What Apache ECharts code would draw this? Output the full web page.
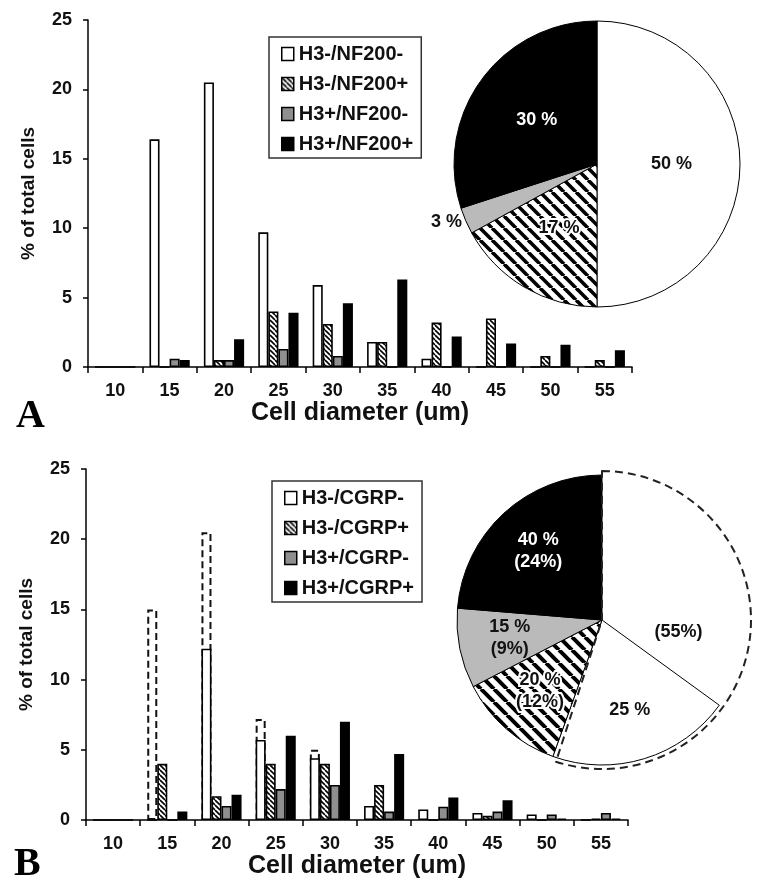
<!DOCTYPE html>
<html>
<head>
<meta charset="utf-8">
<script src="https://cdn.jsdelivr.net/npm/echarts@6/dist/echarts.min.js"></script>
<style>
html,body{margin:0;padding:0;background:#fff;}
#chart{width:762px;height:889px;}
</style>
</head>
<body>
<div id="chart"></div>
<script>
// ---------- data ----------
const categories = ['10','15','20','25','30','35','40','45','50','55'];
const yMin = 0, yMax = 25, yStep = 5;

// Panel A
const namesA = ['H3-/NF200-','H3-/NF200+','H3+/NF200-','H3+/NF200+'];
const nfWhite = [0, 16.4, 20.5, 9.7, 5.9, 1.8, 0.6, 0, 0, 0];
const nfHatch = [0, 0, 0.5, 4.0, 3.1, 1.8, 3.2, 3.5, 0.8, 0.5];
const nfGray  = [0, 0.6, 0.5, 1.3, 0.8, 0, 0, 0, 0, 0];
const nfBlack = [0, 0.5, 2.0, 3.9, 4.6, 6.3, 2.2, 1.7, 1.6, 1.2];
const pieAValues = [50, 17, 3, 30];
const pieALabels = ['50 %', '17 %', '3 %', '30 %'];

// Panel B
const namesB = ['H3-/CGRP-','H3-/CGRP+','H3+/CGRP-','H3+/CGRP+'];
const cgWhite  = [0, 0, 12.2, 5.7, 4.4, 1.0, 0.75, 0.5, 0.4, 0];
const cgHatch  = [0, 4.0, 1.7, 4.0, 4.0, 2.5, 0, 0.3, 0, 0.1];
const cgGray   = [0, 0, 1.0, 2.2, 2.5, 0.6, 0.95, 0.6, 0.4, 0.5];
const cgBlack  = [0, 0.6, 1.8, 6.0, 7.0, 4.7, 1.6, 1.4, 0.1, 0.1];
const cgDashed = ['-', 15.0, 20.5, 7.2, 5.0, '-', '-', '-', '-', '-'];
// solid pie slices clockwise from 12 o'clock: (unoutlined white), white, hatched, gray, black
const pieBSolid = [35, 20.5, 11.9, 8.9, 23.7];
const pieBLabels = ['', '25 %', '20 %\n(12%)', '15 %\n(9%)', '40 %\n(24%)'];
// dashed outline pie: white total, rest
const pieBDashed = [55, 45];
const pieBDashedLabels = ['(55%)', ''];

// ---------- styles ----------
const FONT = '"Liberation Sans", Arial, sans-serif';
const SERIF = '"Liberation Serif", "Times New Roman", serif';
const GRAY_BAR = '#8f8f8f';
const GRAY_PIE = '#bababa';

function hatch(size, lw) {
  const c = document.createElement('canvas');
  c.width = size; c.height = size;
  const ctx = c.getContext('2d');
  ctx.fillStyle = '#fff';
  ctx.fillRect(0, 0, size, size);
  ctx.strokeStyle = '#000';
  ctx.lineWidth = lw;
  for (const k of [-size, 0, size]) {
    ctx.beginPath();
    ctx.moveTo(k, 0);
    ctx.lineTo(k + size, size);
    ctx.stroke();
  }
  return { image: c, repeat: 'repeat' };
}
const barHatch = hatch(5, 1.6);
const pieHatchA = hatch(12, 3.6);
const pieHatchB = hatch(13, 4);

const fills = ['#ffffff', barHatch, GRAY_BAR, '#000000'];

function barSeries(name, data, idx, xi, yi) {
  return {
    type: 'bar', name: name, data: data,
    xAxisIndex: xi, yAxisIndex: yi,
    barGap: '0%', barCategoryGap: '26%',
    z: 3,
    itemStyle: { color: fills[idx], borderColor: '#000', borderWidth: 1.6 },
    emphasis: { disabled: true },
    silent: true
  };
}

function yAxisCfg(grid) {
  return {
    type: 'value', gridIndex: grid, min: yMin, max: yMax, interval: yStep,
    name: '% of total cells', nameLocation: 'middle', nameGap: 50,
    nameTextStyle: { fontFamily: FONT, fontSize: 19, fontWeight: 'bold', color: '#111' },
    axisLine: { show: true, lineStyle: { color: '#000', width: 1.5 } },
    axisTick: { show: true, length: 5, lineStyle: { color: '#000', width: 1.5 } },
    axisLabel: { fontFamily: FONT, fontSize: 18, fontWeight: 'bold', color: '#111', margin: 16 },
    splitLine: { show: false }
  };
}
function xAxisCfg(grid) {
  return {
    type: 'category', gridIndex: grid, data: categories,
    name: 'Cell diameter (um)', nameLocation: 'middle', nameGap: 31,
    nameTextStyle: { fontFamily: FONT, fontSize: 25, fontWeight: 'bold', color: '#111' },
    axisLine: { show: true, lineStyle: { color: '#000', width: 1.5 } },
    axisTick: { show: true, length: 6, lineStyle: { color: '#000', width: 1.5 } },
    axisLabel: { fontFamily: FONT, fontSize: 18, fontWeight: 'bold', color: '#111', margin: 15 },
    splitLine: { show: false }
  };
}

const legendCommon = {
  orient: 'vertical',
  backgroundColor: '#fff',
  borderColor: '#333', borderWidth: 1.5, borderRadius: 0,
  itemWidth: 12, itemHeight: 13, itemGap: 10,
  padding: [7, 8, 4, 12],
  textStyle: { fontFamily: FONT, fontSize: 20, fontWeight: 'bold', color: '#111', padding: [0, 0, 0, 0] },
  itemStyle: { borderColor: '#000', borderWidth: 1.5 },
  selectedMode: false,
  icon: 'rect'
};

const lblBase = { fontFamily: FONT, fontSize: 18, fontWeight: 'bold', lineHeight: 22 };

// pie A data
const pieAFills = ['#ffffff', pieHatchA, GRAY_PIE, '#000000'];
const pieAData = pieAValues.map((v, i) => {
  const item = {
    value: v, name: 'a' + i,
    itemStyle: { color: pieAFills[i] },
    label: Object.assign({ show: true, formatter: pieALabels[i], position: 'inside',
      color: i === 3 ? '#fff' : '#111' }, lblBase)
  };
  if (i === 1) { item.label.textBorderColor = '#fff'; item.label.textBorderWidth = 4; }
  if (i === 2) {
    item.label.position = 'outside';
    item.label.distanceToLabelLine = 2;
    item.labelLine = { show: false, length: 2, length2: 0 };
  }
  return item;
});

// pie B data
const pieBFills = ['rgba(0,0,0,0)', '#ffffff', pieHatchB, GRAY_PIE, '#000000'];
const pieBSolidData = pieBSolid.map((v, i) => ({
  value: v, name: 'b' + i,
  itemStyle: i === 0 ? { color: 'rgba(0,0,0,0)', borderWidth: 0 }
                     : { color: pieBFills[i], borderColor: '#000', borderWidth: 1 }
}));
const pieBLabelData = pieBSolid.map((v, i) => ({
  value: v, name: 'bl' + i,
  label: Object.assign({ show: pieBLabels[i] !== '', formatter: pieBLabels[i], position: 'inside',
    color: i === 4 ? '#fff' : '#111',
    textBorderColor: i === 2 ? '#fff' : 'transparent', textBorderWidth: i === 2 ? 4 : 0 }, lblBase)
}));
const pieBDashedData = pieBDashed.map((v, i) => ({
  value: v, name: 'bd' + i,
  itemStyle: i === 0 ? { color: 'rgba(0,0,0,0)', borderColor: '#222', borderWidth: 2, borderType: [8, 5] }
                     : { color: 'rgba(0,0,0,0)', borderWidth: 0 },
  label: Object.assign({ show: pieBDashedLabels[i] !== '', formatter: pieBDashedLabels[i],
    position: 'inside', color: '#111' }, lblBase)
}));

const option = {
  animation: false,
  backgroundColor: '#fff',
  textStyle: { fontFamily: FONT },
  title: [
    { text: 'A', left: 16, top: 397, padding: 0,
      textStyle: { fontFamily: SERIF, fontSize: 40, fontWeight: 'bold', color: '#000' } },
    { text: 'B', left: 14, top: 845, padding: 0,
      textStyle: { fontFamily: SERIF, fontSize: 40, fontWeight: 'bold', color: '#000' } }
  ],
  grid: [
    { left: 88, top: 20, width: 544, height: 347 },
    { left: 86, top: 469, width: 542, height: 351 }
  ],
  xAxis: [
    xAxisCfg(0),
    xAxisCfg(1),
    { type: 'category', gridIndex: 1, data: categories, show: false }
  ],
  yAxis: [
    yAxisCfg(0),
    yAxisCfg(1),
    { type: 'value', gridIndex: 1, min: yMin, max: yMax, interval: yStep, show: false }
  ],
  legend: [
    Object.assign({}, legendCommon, { left: 269, top: 37, data: namesA }),
    Object.assign({}, legendCommon, { left: 272, top: 481, data: namesB })
  ],
  series: [
    barSeries(namesA[0], nfWhite, 0, 0, 0),
    barSeries(namesA[1], nfHatch, 1, 0, 0),
    barSeries(namesA[2], nfGray, 2, 0, 0),
    barSeries(namesA[3], nfBlack, 3, 0, 0),
    barSeries(namesB[0], cgWhite, 0, 1, 1),
    barSeries(namesB[1], cgHatch, 1, 1, 1),
    barSeries(namesB[2], cgGray, 2, 1, 1),
    barSeries(namesB[3], cgBlack, 3, 1, 1),
    // dashed outline overlay (slot aligned with white bars)
    { type: 'bar', name: 'dashedTotal', data: cgDashed, xAxisIndex: 2, yAxisIndex: 2,
      barGap: '0%', barCategoryGap: '26%', z: 2, silent: true,
      itemStyle: { color: 'rgba(0,0,0,0)', borderColor: '#111', borderWidth: 2, borderType: [7, 4] } },
    { type: 'bar', name: 'ph1', data: categories.map(() => '-'), xAxisIndex: 2, yAxisIndex: 2,
      barGap: '0%', barCategoryGap: '26%', silent: true },
    { type: 'bar', name: 'ph2', data: categories.map(() => '-'), xAxisIndex: 2, yAxisIndex: 2,
      barGap: '0%', barCategoryGap: '26%', silent: true },
    { type: 'bar', name: 'ph3', data: categories.map(() => '-'), xAxisIndex: 2, yAxisIndex: 2,
      barGap: '0%', barCategoryGap: '26%', silent: true },
    // pie A
    { type: 'pie', center: [597, 164], radius: [0, 143], startAngle: 90, clockwise: true,
      avoidLabelOverlap: false, silent: true, z: 4,
      itemStyle: { borderColor: '#000', borderWidth: 1 },
      emphasis: { disabled: true },
      data: pieAData },
    // pie B solid
    { type: 'pie', center: [602, 620], radius: [0, 145], startAngle: 90, clockwise: true,
      avoidLabelOverlap: false, silent: true, z: 4, label: { show: false }, labelLine: { show: false },
      emphasis: { disabled: true },
      data: pieBSolidData },
    // pie B dashed outline
    { type: 'pie', center: [602, 620], radius: [0, 149], startAngle: 90, clockwise: true,
      avoidLabelOverlap: false, silent: true, z: 5,
      emphasis: { disabled: true },
      data: pieBDashedData },
    // pie B label holder (invisible, places labels)
    { type: 'pie', center: [602, 620], radius: [0, 182], startAngle: 90, clockwise: true,
      avoidLabelOverlap: false, silent: true, z: 6,
      itemStyle: { color: 'rgba(0,0,0,0)', borderWidth: 0 },
      emphasis: { disabled: true },
      data: pieBLabelData }
  ]
};

const chart = echarts.init(document.getElementById('chart'), null, { renderer: 'canvas' });
chart.setOption(option);
</script>
</body>
</html>
